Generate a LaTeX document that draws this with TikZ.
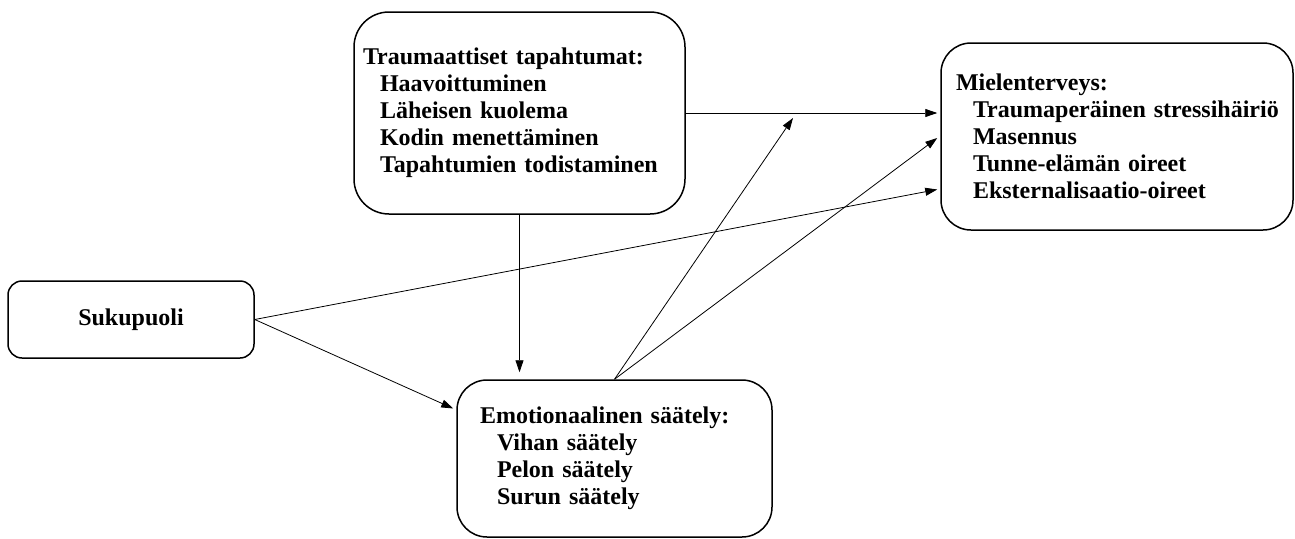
\documentclass[tikz,border=0pt]{standalone}
\usepackage{fontspec}
\setmainfont{Liberation Serif}
\usetikzlibrary{arrows.meta,calc}
\newcommand\ind{\hspace*{17pt}}

\begin{document}
\begin{tikzpicture}[x=1pt, y=-1pt,
		box/.style={draw, line width=1.5pt, align=left, inner ysep=0pt,
			font=\fontsize{24}{27}\selectfont\bfseries},
		link/.style={line width=.8pt, -{Triangle[length=12pt,width=8pt]}}]
	\useasboundingbox (0,0) rectangle (1295,538);

	\node[box, rounded corners=35pt, minimum width=331pt, minimum height=202pt,
		inner xsep=9pt, text width=313pt] (trauma) at (519.5,113)
		{Traumaattiset tapahtumat:\\ \ind Haavoittuminen\\ \ind Läheisen kuolema\\
		\ind Kodin menettäminen\\ \ind Tapahtumien todistaminen};
	\node[box, rounded corners=30pt, minimum width=352pt, minimum height=187pt,
		inner xsep=15pt, text width=322pt] (mental) at (1117,136.5)
		{Mielenterveys:\\ \ind\mbox{Traumaperäinen stressihäiriö}\\ \ind Masennus\\
		\ind Tunne-elämän oireet\\ \ind Eksternalisaatio-oireet};
	\node[box, rounded corners=14pt, minimum width=246pt, minimum height=77pt,
		align=center] (gender) at (131,319.5) {Sukupuoli};
	\node[box, rounded corners=30pt, minimum width=315pt, minimum height=157pt,
		inner xsep=23pt, text width=269pt] (emotion) at (614.5,458.5)
		{Emotionaalinen säätely:\\ \ind Vihan säätely\\ \ind Pelon säätely\\
		\ind Surun säätely};

	\coordinate (free) at (793,118);

	\draw[link] (trauma.east) -- ($(trauma.east -| mental.west)+(-3,0)$);
	\draw[link] (trauma.south) -- ($(trauma.south |- emotion.north)+(0,-7)$);
	\draw[link] (gender.east) -- ($(mental.west)+(-3,53)$);
	\draw[link] (gender.east) -- ($(emotion.west)+(-3,-50)$);
	\draw[link] (emotion.north) -- (free);
	\draw[link] (emotion.north) -- ($(mental.west)+(-3,1.5)$);
\end{tikzpicture}
\end{document}
